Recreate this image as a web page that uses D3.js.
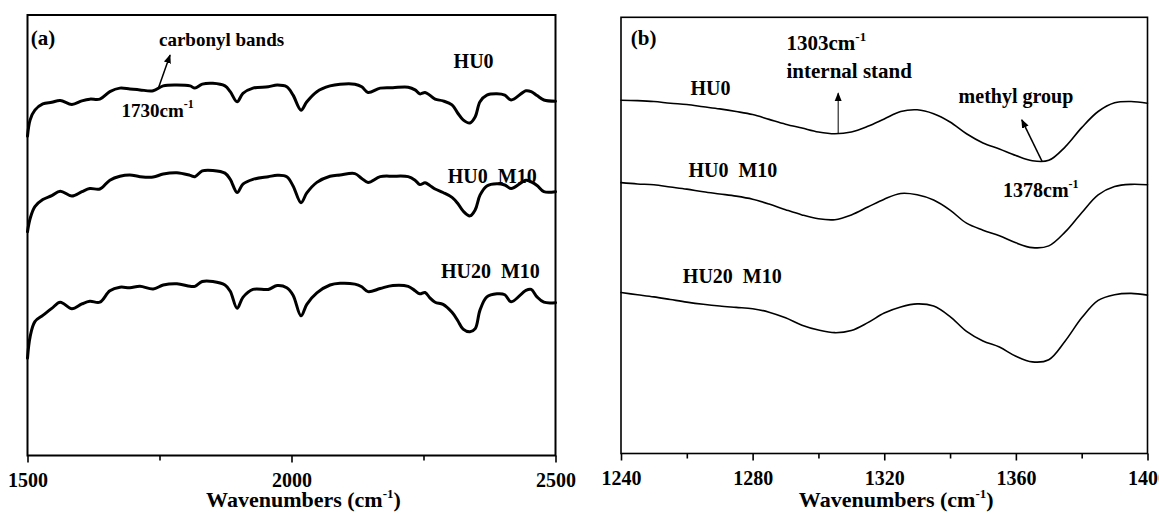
<!DOCTYPE html>
<html>
<head>
<script src="https://d3js.org/d3.v7.min.js"></script>
<style>
  body { margin: 0; background: #fff; }
  svg text { font-family: "Liberation Serif", "Times New Roman", serif; font-weight: bold; fill: #000; }
  .frame { fill: none; stroke: #000; }
  .spectrum { fill: none; stroke: #000; stroke-linejoin: round; stroke-linecap: round; }
</style>
</head>
<body>
<svg id="chart" width="1159" height="513"></svg>
<script>
// ---- panel (a): 1500-2500 cm-1, arbitrary transmittance units ----
const waveA = [1500,1505,1514,1529,1546,1562,1584,1603,1618,1637,1656,1675,1694,1713,1738,1757,1783,1808,1817,1831,
  1851,1874,1884,1897,1908,1927,1956,1973,1991,2003,2018,2029,2048,2073,2092,2120,2133,2145,2168,2192,
  2221,2234,2243,2253,2262,2272,2287,2304,2315,2325,2338,2348,2357,2370,2389,2404,2416,2444,2454,2465,2478,2500];
const hu0A = [72.5,76.2,78.4,79.8,80.2,80.6,79.7,80.5,80.9,80.9,82.6,83.4,83.2,83.0,82.8,83.9,84.1,83.9,83.4,84.3,
  84.5,83.9,82.6,80.3,82.2,83.4,83.7,84.1,83.7,81.8,78.4,80.3,82.6,83.9,84.3,84.3,83.7,82.4,83.4,83.5,
  83.6,83.0,82.1,82.4,81.8,80.9,80.5,79.6,77.7,76.2,75.5,76.9,80.3,81.8,82.1,81.8,80.7,82.8,82.6,81.7,80.7,80.4];
const hu0m10A = [50.8,53.8,56.5,58.1,59.0,60.0,58.9,59.9,60.6,60.5,62.5,63.4,63.7,63.3,63.2,63.9,64.2,63.6,63.3,64.6,
  64.7,64.1,62.7,59.7,61.6,62.7,63.3,63.6,63.3,61.2,57.4,59.6,62.0,63.4,63.7,64.0,62.9,62.0,63.3,63.4,
  63.3,62.5,61.5,61.9,61.3,60.5,59.7,58.6,57.2,55.5,54.4,55.8,59.1,61.2,61.7,61.4,60.6,62.5,62.1,61.3,59.9,59.9];
const hu20m10A = [22.1,27.0,30.4,31.8,33.4,34.8,33.3,34.4,35.0,34.8,37.4,38.2,38.1,38.4,37.8,38.7,39.0,38.4,38.4,39.5,
  39.5,38.7,37.3,33.4,35.9,37.7,37.7,38.6,38.1,36.4,31.7,34.3,36.9,38.7,39.1,38.9,38.3,37.2,37.9,38.6,
  38.4,37.4,36.7,37.0,35.8,34.8,34.3,32.5,30.6,28.7,28.1,28.8,33.0,36.0,36.7,36.5,34.9,37.5,37.7,36.0,34.8,34.7];
const majorTicksA = [1500, 2000, 2500];
const minorTicksA = [1750, 2250];

// ---- panel (b): 1240-1400 cm-1 ----
const waveB = [1240,1245,1250,1255,1260,1265,1270,1275,1280,1285,1290,1295,1300,1305,1310,1315,1320,
  1325,1330,1335,1340,1345,1350,1355,1360,1365,1370,1375,1380,1385,1390,1395,1400];
const hu0B = [81.0,80.9,80.7,80.3,80.0,79.5,79.0,78.4,77.7,76.6,75.5,74.6,73.7,73.3,73.7,75.0,76.7,
  78.4,78.8,77.9,76.0,73.3,71.2,69.8,68.3,67.1,67.2,70.3,74.7,78.4,80.4,80.7,80.3];
const hu0m10B = [62.1,61.8,61.6,61.1,60.6,60.0,59.5,59.0,58.3,57.2,55.9,54.7,53.8,53.6,54.7,56.5,58.3,
  59.6,59.3,58.1,55.8,52.8,51.2,49.9,48.3,47.2,47.6,50.8,55.2,59.3,61.2,61.7,61.6];
const hu20m10B = [36.9,36.4,35.9,35.3,34.7,34.2,33.8,33.5,33.2,32.4,31.1,29.4,28.3,27.7,28.2,30.0,32.2,
  33.6,34.3,33.8,31.4,28.0,25.8,24.4,22.3,21.0,21.5,25.8,31.1,35.1,36.4,36.7,36.3];
const majorTicksB = [1240, 1280, 1320, 1360, 1400];
const minorTicksB = [1260, 1300, 1340, 1380];

const seriesLabels = ["HU0", "HU0  M10", "HU20  M10"];

const svg = d3.select("#chart");

// arrow head
svg.append("defs").append("marker")
    .attr("id", "head")
    .attr("viewBox", "0 0 10 10")
    .attr("refX", 9).attr("refY", 5)
    .attr("markerWidth", 9).attr("markerHeight", 9)
    .attr("markerUnits", "userSpaceOnUse")
    .attr("orient", "auto")
  .append("path")
    .attr("d", "M0,1 L10,5 L0,9 Z")
    .attr("fill", "#000");

function drawPanel(p) {
  const x = d3.scaleLinear().domain(p.domain).range([p.left, p.right]);
  const y = d3.scaleLinear().domain([0, 100]).range([p.bottom, p.top]);
  const g = svg.append("g");

  // minor + major ticks
  g.append("g")
    .attr("transform", `translate(0,${p.bottom})`)
    .call(d3.axisBottom(x).tickValues(p.minor).tickSize(5).tickSizeOuter(0).tickFormat(""))
    .call(a => a.select(".domain").remove())
    .selectAll("line").attr("stroke-width", 1.6);

  g.append("g")
    .attr("transform", `translate(0,${p.bottom})`)
    .call(d3.axisBottom(x).tickValues(p.major).tickSize(7).tickSizeOuter(0).tickFormat(d3.format("d")))
    .call(a => a.select(".domain").remove())
    .call(a => a.selectAll("line").attr("stroke-width", 1.6))
    .selectAll("text")
      .attr("y", 31).attr("dy", null)
      .style("font-size", "20px")
      .style("font-family", "'Liberation Serif', serif")
      .style("font-weight", "bold");

  g.append("rect").attr("class", "frame")
    .attr("x", p.left).attr("y", p.top)
    .attr("width", p.right - p.left).attr("height", p.bottom - p.top)
    .attr("stroke-width", p.frameWidth);

  const line = d3.line()
    .x((d, i) => x(p.wave[i]))
    .y(d => y(d))
    .curve(d3.curveCatmullRom.alpha(0.5));

  g.selectAll("path.spectrum")
    .data(p.series)
    .join("path")
      .attr("class", "spectrum")
      .attr("stroke-width", p.lineWidth)
      .attr("d", d => line(d));

  // axis title
  const t = g.append("text")
    .attr("x", (p.left + p.right) / 2 + 12)
    .attr("y", 507)
    .attr("text-anchor", "middle")
    .style("font-size", "22px");
  t.append("tspan").text("Wavenumbers (cm");
  t.append("tspan").attr("dy", -9).style("font-size", "13px").text("-1");
  t.append("tspan").attr("dy", 9).text(")");

  return { g, x, y };
}

function label(g, xpos, ypos, txt, size) {
  return g.append("text")
    .attr("x", xpos).attr("y", ypos)
    .attr("xml:space", "preserve")
    .style("white-space", "pre")
    .style("font-size", size + "px")
    .text(txt);
}

function supLabel(g, xpos, ypos, txt, sup, size) {
  const t = g.append("text").attr("x", xpos).attr("y", ypos).style("font-size", size + "px");
  t.append("tspan").text(txt);
  t.append("tspan").attr("dy", -9).style("font-size", Math.round(size * 0.62) + "px").text(sup);
  return t;
}

function arrow(g, x1, y1, x2, y2, w) {
  g.append("line")
    .attr("x1", x1).attr("y1", y1).attr("x2", x2).attr("y2", y2)
    .attr("stroke", "#000").attr("stroke-width", w)
    .attr("marker-end", "url(#head)");
}

// ---------- panel (a) ----------
const A = drawPanel({
  left: 27.5, right: 555.5, top: 15, bottom: 455.5,
  domain: [1500, 2500], major: majorTicksA, minor: minorTicksA,
  wave: waveA, series: [hu0A, hu0m10A, hu20m10A],
  lineWidth: 3, frameWidth: 2
});
label(A.g, A.x(1506), A.y(93.2), "(a)", 21);
label(A.g, A.x(1749), A.y(93.0), "carbonyl bands", 19);
supLabel(A.g, A.x(1678), A.y(76.9), "1730cm", "-1", 19);
arrow(A.g, A.x(1748), A.y(83.4), A.x(1770), A.y(90.9), 1.5);
label(A.g, A.x(2307), A.y(88.0), seriesLabels[0], 20);
label(A.g, A.x(2296), A.y(61.9), seriesLabels[1], 20);
label(A.g, A.x(2283), A.y(40.3), seriesLabels[2], 20);

// ---------- panel (b) ----------
const B = drawPanel({
  left: 621, right: 1147.5, top: 17.3, bottom: 453.5,
  domain: [1240, 1400], major: majorTicksB, minor: minorTicksB,
  wave: waveB, series: [hu0B, hu0m10B, hu20m10B],
  lineWidth: 1.6, frameWidth: 1.6
});
label(B.g, B.x(1243), B.y(93.6), "(b)", 21);
supLabel(B.g, B.x(1290.3), B.y(92.5), "1303cm", "-1", 21);
label(B.g, B.x(1290.3), B.y(86.1), "internal stand", 21);
arrow(B.g, B.x(1306), B.y(73.4), B.x(1306), B.y(82.6), 1);
label(B.g, B.x(1342.6), B.y(80.4), "methyl group", 20);
arrow(B.g, B.x(1368), B.y(66.9), B.x(1361.8), B.y(76.5), 1.5);
supLabel(B.g, B.x(1356.1), B.y(58.8), "1378cm", "-1", 20);
label(B.g, B.x(1261.1), B.y(82.2), seriesLabels[0], 20);
label(B.g, B.x(1260.5), B.y(63.4), seriesLabels[1], 20);
label(B.g, B.x(1258.8), B.y(39.1), seriesLabels[2], 20);
</script>
</body>
</html>
